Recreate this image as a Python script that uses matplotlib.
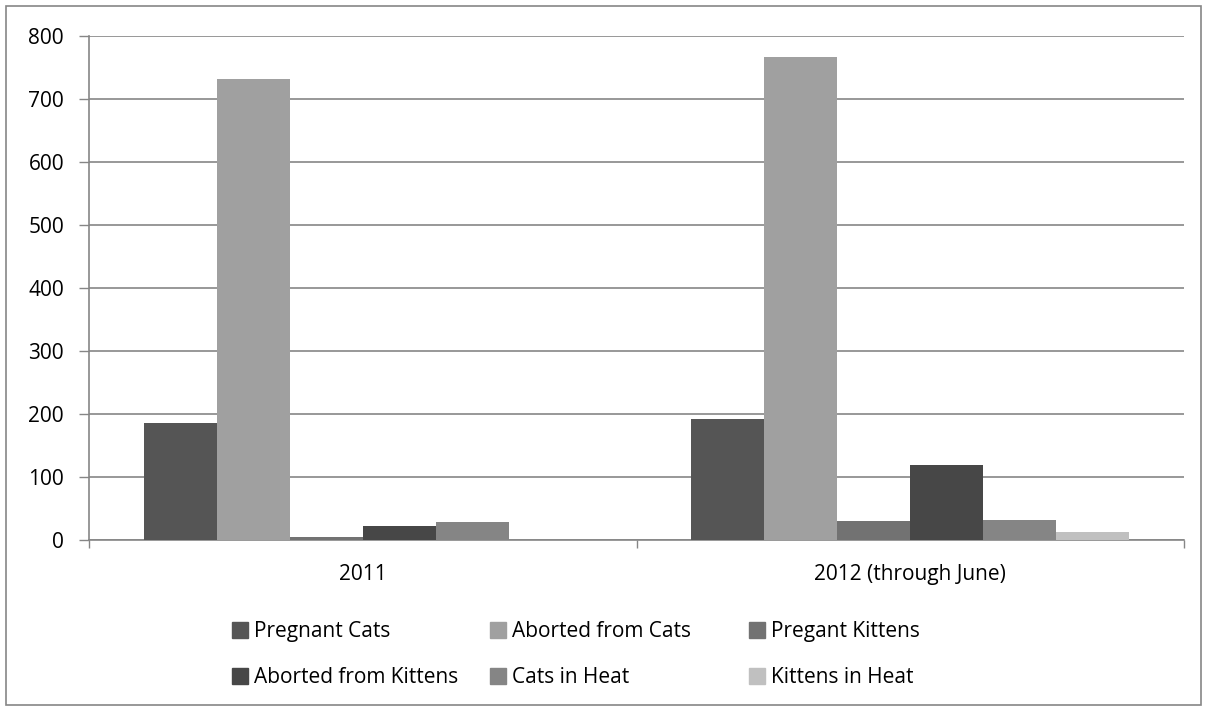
import numpy as np
import matplotlib.pyplot as plt
from matplotlib.patches import Patch, Rectangle

plt.rcParams['font.family'] = ['Open Sans', 'DejaVu Sans']

years = ['2011', '2012 (through June)']
series = ['Pregnant Cats', 'Aborted from Cats', 'Pregant Kittens',
          'Aborted from Kittens', 'Cats in Heat', 'Kittens in Heat']
pregnant_cats = [185, 192]
aborted_cats = [731, 767]
pregnant_kittens = [5, 30]
aborted_kittens = [22, 119]
cats_heat = [28, 32]
kittens_heat = [0, 12]
values = [pregnant_cats, aborted_cats, pregnant_kittens,
          aborted_kittens, cats_heat, kittens_heat]
colors = ['#555555', '#a0a0a0', '#727272', '#474747', '#858585', '#c0c0c0']

GRID = '#868686'
FS = 15

fig = plt.figure(figsize=(12.07, 7.11), dpi=100)
ax = fig.add_axes([89/1207, 1-540/711, (1184-89)/1207, (540-36)/711])

x = np.arange(len(years))
w = 0.8/len(series)
for i, (vals, c) in enumerate(zip(values, colors)):
    ax.bar(x - 0.4 + w*(i+0.5), vals, width=w, color=c, zorder=3)

ax.set_xlim(-0.5, 1.5)
ax.set_ylim(0, 800)
ax.set_yticks(range(0, 801, 100))
ax.yaxis.grid(True, color=GRID, lw=1.2, zorder=0)
ax.tick_params(axis='y', length=7, color=GRID, width=1, labelsize=FS, pad=11)

ax.set_xticks(x)
ax.set_xticklabels(years)
ax.tick_params(axis='x', which='major', length=0, labelsize=FS, pad=17)
ax.set_xticks([-0.5, 0.5, 1.5], minor=True)
ax.tick_params(axis='x', which='minor', length=6, color=GRID, width=1)

for s in ['top', 'right']:
    ax.spines[s].set_visible(False)
for s in ['left', 'bottom']:
    ax.spines[s].set_color(GRID)
    ax.spines[s].set_linewidth(1.2)

# legend: three columns of two rows, laid out like the spreadsheet legend
handles = [Patch(color=c) for c in colors]
col_x = [232, 490, 749]
for k in range(3):
    idx = [k, k+3]
    fig.legend([handles[i] for i in idx], [series[i] for i in idx],
               loc='upper left', bbox_to_anchor=(col_x[k]/1207, 1-621/711),
               frameon=False, fontsize=FS, handlelength=0.77, handleheight=0.77,
               handletextpad=0.3, labelspacing=1.2, borderpad=0,
               borderaxespad=0)

fig.add_artist(Rectangle((6/1207, 6/711), 1195/1207, 699/711,
                         transform=fig.transFigure, fill=False,
                         edgecolor=GRID, lw=1.2))

fig.savefig('out.png', dpi=100)
